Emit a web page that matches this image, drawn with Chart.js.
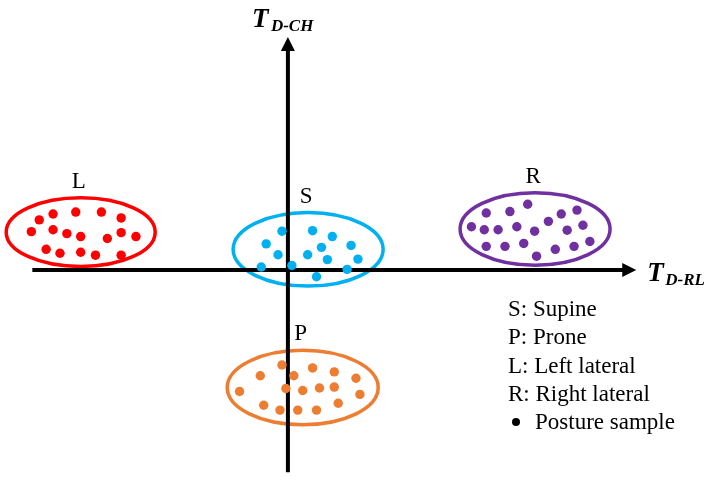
<!DOCTYPE html>
<html>
<head>
<meta charset="utf-8">
<script src="https://cdn.jsdelivr.net/npm/chart.js@4/dist/chart.umd.min.js"></script>
<style>
    body { margin: 0; background: #fff; }
    #posture-chart { display: block; }
</style>
</head>
<body>
<canvas id="posture-chart" width="710" height="480"></canvas>
<script>
// Образцы поз: [T_D-RL, T_D-CH], начало координат в пересечении осей
const supinePoints = [
    [-6, 39.5], [25, 40], [45, 34], [-22, 26.5], [34, 23], [64, 25], [-10, 15.5],
    [20, 15.5], [40, 10.5], [71, 11], [-27, 3], [4, 4.5], [60, 0.5], [29, -7]
];
const pronePoints = [
    [-6, -97], [-28, -108], [6, -108], [25, -100], [47, -104], [69, -110.5],
    [-49, -124], [-2, -121], [15, -123], [32, -120.5], [47, -119.5], [73, -127],
    [-24.5, -138], [-8, -143], [10, -143], [29, -143], [51, -136]
];
const leftPoints = [
    [-252, 51], [-238, 57], [-215, 59], [-189, 59], [-169, 53], [-260, 39],
    [-238, 41], [-224, 37], [-210, 34], [-183, 32], [-169, 38], [-154, 34],
    [-245, 21], [-231, 17], [-210, 18], [-195, 15], [-169, 15]
];
const rightPoints = [
    [243, 67], [201, 58], [225, 59.5], [293, 61], [277, 57], [264, 49.5],
    [186, 44], [199, 41], [213, 41], [232, 44], [250, 39.5], [283, 40.5],
    [299, 45.5], [201, 24], [220, 24], [239, 27], [271, 21], [290, 24],
    [306, 29], [252, 14]
];

// Области поз: центр и полуоси
const clusterLabels = ['S', 'P', 'L', 'R'];
const clusterCenters = [[20.5, 21], [15, -120], [-210, 38.5], [250.5, 41.7]];
const clusterRadii = [[76, 37.5], [76.5, 38], [75.5, 35], [76, 37]];
const clusterColors = ['#00b0f0', '#ed7d31', '#ff0000', '#7030a0'];

// Диапазоны осей
const xRange = [-287, 423];
const yRange = [-209.5, 270.5];
const axisX = [-259, 353];
const axisY = [-206.5, 237.5];

// Подписи
const legendItems = ['S: Supine', 'P: Prone', 'L: Left lateral', 'R: Right lateral'];
const sampleLabel = 'Posture sample';

const SERIF = '"Liberation Serif", "Times New Roman", serif';

function toPoints(arr) {
    return arr.map(p => ({ x: p[0], y: p[1] }));
}

// Стрелка-наконечник
function arrowHead(ctx, x, y, dir) {
    ctx.beginPath();
    if (dir === 'right') {
        ctx.moveTo(x, y);
        ctx.lineTo(x - 14, y - 7);
        ctx.lineTo(x - 14, y + 7);
    } else {
        ctx.moveTo(x, y);
        ctx.lineTo(x - 7, y + 14);
        ctx.lineTo(x + 7, y + 14);
    }
    ctx.closePath();
    ctx.fill();
}

// Эллипсы, оси и надписи
const posturePlugin = {
    id: 'posture',
    beforeDatasetsDraw(chart) {
        const { ctx, scales: { x, y } } = chart;
        ctx.save();

        clusterCenters.forEach((c, i) => {
            const cx = x.getPixelForValue(c[0]);
            const cy = y.getPixelForValue(c[1]);
            const rx = Math.abs(x.getPixelForValue(c[0] + clusterRadii[i][0]) - cx);
            const ry = Math.abs(y.getPixelForValue(c[1] + clusterRadii[i][1]) - cy);
            ctx.beginPath();
            ctx.ellipse(cx, cy, rx, ry, 0, 0, Math.PI * 2);
            ctx.lineWidth = 3.5;
            ctx.strokeStyle = clusterColors[i];
            ctx.stroke();

            ctx.fillStyle = '#000';
            ctx.font = '23px ' + SERIF;
            ctx.textAlign = 'center';
            ctx.textBaseline = 'middle';
            ctx.fillText(clusterLabels[i], cx - 2, cy - ry - 16);
        });

        // Оси
        const ox = x.getPixelForValue(0);
        const oy = y.getPixelForValue(0);
        const xl = x.getPixelForValue(axisX[0]);
        const xr = x.getPixelForValue(axisX[1]);
        const yb = y.getPixelForValue(axisY[0]);
        const yt = y.getPixelForValue(axisY[1]);

        ctx.strokeStyle = '#000';
        ctx.fillStyle = '#000';
        ctx.lineWidth = 4;
        ctx.beginPath();
        ctx.moveTo(xl, oy);
        ctx.lineTo(xr - 12, oy);
        ctx.moveTo(ox, yb);
        ctx.lineTo(ox, yt + 12);
        ctx.stroke();
        arrowHead(ctx, xr, oy, 'right');
        arrowHead(ctx, ox, yt, 'up');

        // Названия осей
        ctx.textAlign = 'left';
        ctx.textBaseline = 'alphabetic';
        ctx.font = 'italic bold 27px ' + SERIF;
        ctx.fillText('T', ox - 36, yt - 10);
        ctx.fillText('T', xr + 11, oy + 11);
        ctx.font = 'italic bold 17px ' + SERIF;
        ctx.fillText('D-CH', ox - 17, yt - 6);
        ctx.fillText('D-RL', xr + 29, oy + 15);

        // Легенда
        ctx.font = '23px ' + SERIF;
        legendItems.forEach((t, i) => {
            ctx.fillText(t, 508, 316 + i * 28.3);
        });
        ctx.fillText(sampleLabel, 535, 429);
        ctx.beginPath();
        ctx.arc(516, 422, 4, 0, Math.PI * 2);
        ctx.fill();

        ctx.restore();
    }
};

const pointSets = [supinePoints, pronePoints, leftPoints, rightPoints];

const ctx = document.getElementById('posture-chart').getContext('2d');
const chart = new Chart(ctx, {
    type: 'scatter',
    data: {
        datasets: pointSets.map((pts, i) => ({
            label: clusterLabels[i],
            data: toPoints(pts),
            backgroundColor: clusterColors[i],
            borderWidth: 0,
            pointRadius: 4.7,
            pointHoverRadius: 4.7
        }))
    },
    options: {
        responsive: false,
        animation: false,
        layout: { padding: 0 },
        plugins: {
            legend: { display: false },
            tooltip: { enabled: false }
        },
        scales: {
            x: { type: 'linear', min: xRange[0], max: xRange[1], display: false },
            y: { type: 'linear', min: yRange[0], max: yRange[1], display: false }
        }
    },
    plugins: [posturePlugin]
});
</script>
</body>
</html>
